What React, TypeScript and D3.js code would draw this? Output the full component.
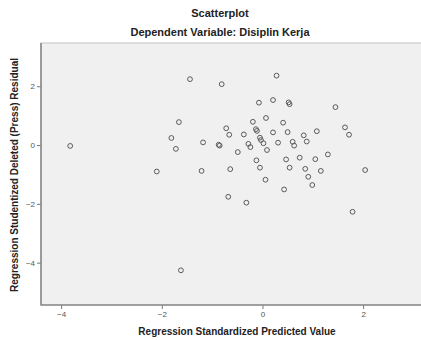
import React, { useEffect, useRef } from "react";
import * as d3 from "d3";

const title = "Scatterplot";
const subtitle = "Dependent Variable: Disiplin Kerja";
const xLabel = "Regression Standardized Predicted Value";
const yLabel = "Regression Studentized Deleted (Press) Residual";

const xTicks = [-4, -2, 0, 2];
const yTicks = [2, 0, -2, -4];

// standardized predicted value
const predicted = [
  -3.82, -1.44, -1.66, -1.81, -1.72, -1.18, -2.1, -1.21, -1.62,
  -0.81, 0.28, -0.07, 0.21, 0.52, 0.54, 1.45, -0.19, 0.07, 0.41,
  -0.72, -0.66, -0.13, -0.11, -0.37, 0.21, 0.5, 0.82, 1.08, 1.64, 1.72,
  -0.87, -0.85, -0.28, -0.24, -0.05, -0.03, 0.02, 0.31, 0.6, 0.63, 0.88,
  -0.49, 0.09, -0.12, 0.47, 0.74, 1.05, 1.3,
  -0.64, -0.05, 0.54, 0.85, 1.16, 2.04, 0.91, 0.06, 0.99, 0.43, -0.68,
  -0.32, 1.79,
];
// studentized deleted residual
const residual = [
  -0.03, 2.24, 0.78, 0.24, -0.13, 0.09, -0.9, -0.88, -4.26,
  2.07, 2.36, 1.44, 1.53, 1.45, 1.39, 1.29, 0.79, 0.92, 0.76,
  0.57, 0.35, 0.54, 0.48, 0.36, 0.43, 0.44, 0.33, 0.47, 0.6, 0.35,
  0.01, -0.02, 0.04, -0.07, 0.25, 0.17, 0.06, 0.08, 0.11, -0.02, 0.12,
  -0.24, -0.17, -0.52, -0.49, -0.43, -0.48, -0.32,
  -0.82, -0.77, -0.77, -0.81, -0.88, -0.85, -1.08, -1.18, -1.36, -1.51, -1.76,
  -1.96, -2.27,
];

const App = () => {
  const svgRef = useRef<SVGSVGElement>(null);

  useEffect(() => {
    const width = 421, height = 340;
    const left = 41, top = 43, bottom = 305, right = 440;

    const svg = d3.select(svgRef.current)
      .attr("width", width)
      .attr("height", height)
      .style("background", "#fff")
      .style("font-family", "'Liberation Sans', Arial, sans-serif");
    svg.selectAll("*").remove();

    const x = d3.scaleLinear().domain([-4.4, 3.15]).range([left, 421]);
    const y = d3.scaleLinear().domain([-5.44, 3.47]).range([bottom, top]);

    // plot background
    svg.append("rect")
      .attr("x", left).attr("y", top)
      .attr("width", right - left).attr("height", bottom - top)
      .attr("fill", "#f0f0f0")
      .attr("stroke", "#c4c4c4");

    // Y-axis
    const ya = svg.append("g")
      .attr("transform", `translate(${left},0)`)
      .call(d3.axisLeft(y).tickValues(yTicks).tickSize(4).tickPadding(2));
    // X-axis
    const xa = svg.append("g")
      .attr("transform", `translate(0,${bottom})`)
      .call(d3.axisBottom(x).tickValues(xTicks).tickSize(4).tickPadding(2));

    [ya, xa].forEach(a => {
      a.select(".domain").remove();
      a.selectAll("line").attr("stroke", "#777");
      a.selectAll("text")
        .attr("fill", "#555")
        .style("font-size", "8px")
        .style("font-family", "'Liberation Sans', Arial, sans-serif");
    });

    svg.append("line")
      .attr("x1", left).attr("x2", left).attr("y1", top).attr("y2", bottom + 0.5)
      .attr("stroke", "#8a8a8a").attr("stroke-width", 1.6);
    svg.append("line")
      .attr("x1", left).attr("x2", right).attr("y1", bottom).attr("y2", bottom)
      .attr("stroke", "#8a8a8a").attr("stroke-width", 1.6);

    const pts = predicted.map((p, i) => ({ p, r: residual[i] }));
    svg.append("g")
      .selectAll("circle")
      .data(pts)
      .enter()
      .append("circle")
      .attr("cx", d => x(d.p))
      .attr("cy", d => y(d.r))
      .attr("r", 2.4)
      .attr("fill", "none")
      .attr("stroke", "#5a5a5a")
      .attr("stroke-width", 1);

    // titles
    svg.append("text")
      .attr("x", 220).attr("y", 17)
      .attr("text-anchor", "middle")
      .style("font-size", "11px").style("font-weight", "bold")
      .attr("fill", "#222")
      .text(title);
    svg.append("text")
      .attr("x", 220).attr("y", 36)
      .attr("text-anchor", "middle")
      .style("font-size", "11px").style("font-weight", "bold")
      .attr("fill", "#222")
      .text(subtitle);

    // X-axis label
    svg.append("text")
      .attr("x", 237).attr("y", 335)
      .attr("text-anchor", "middle")
      .style("font-size", "10px").style("font-weight", "bold")
      .attr("fill", "#222")
      .text(xLabel);

    // Y-axis label
    svg.append("text")
      .attr("transform", "rotate(-90)")
      .attr("x", -175).attr("y", 18)
      .attr("text-anchor", "middle")
      .style("font-size", "10px").style("font-weight", "bold")
      .attr("fill", "#222")
      .text(yLabel);
  }, []);

  return (
    <div style={{ position: "absolute", left: 0, top: 0 }}>
      <svg ref={svgRef}></svg>
    </div>
  );
};

export default App;
